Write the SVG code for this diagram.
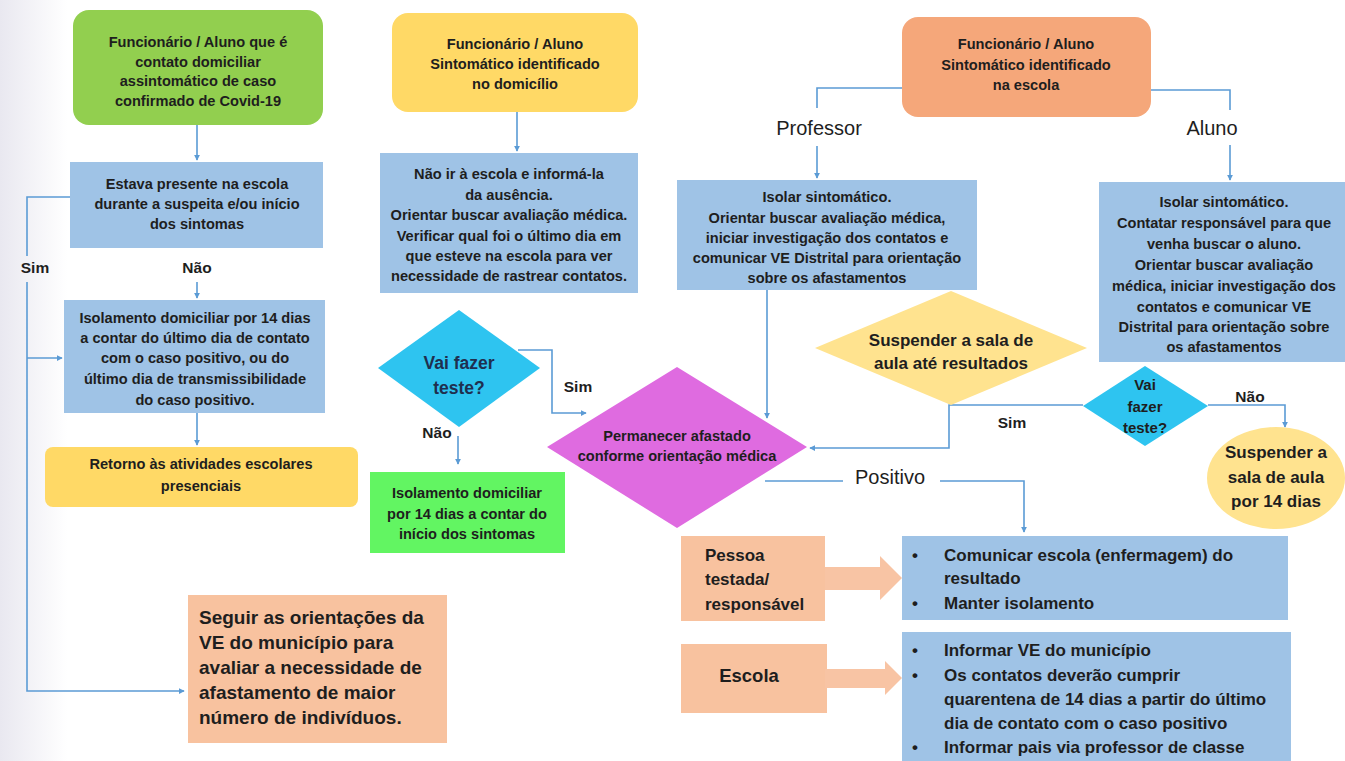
<svg xmlns="http://www.w3.org/2000/svg" width="1345" height="761" viewBox="0 0 1345 761">
<defs>
<marker id="ah" viewBox="0 0 8 8" refX="7" refY="4" markerWidth="6" markerHeight="6" orient="auto" markerUnits="userSpaceOnUse">
<path d="M0,0 L8,4 L0,8 z" fill="#5B9BD5"/>
</marker>
<linearGradient id="bg" x1="0" y1="0" x2="1" y2="0">
<stop offset="0" stop-color="#E9E8F0"/>
<stop offset="0.05" stop-color="#FFFFFF"/>
<stop offset="1" stop-color="#FFFFFF"/>
</linearGradient>
</defs>
<style>
text{font-family:"Liberation Sans",Arial,sans-serif;font-weight:bold;fill:#1E1E1E}
.c{text-anchor:middle}
.s{font-size:14.6px}
.m{font-size:17px}
.l{font-size:17px}
.xl{font-size:18.5px}
.sg{font-size:19px}
.lbl{font-size:15.5px}
.br{font-size:20px;font-weight:normal}
.conn{fill:none;stroke:#5B9BD5;stroke-width:1.6}
.blue{fill:#9FC3E6}
.peach{fill:#F8C29F}
.barrow{fill:#F8C4A4}
</style>
<rect x="0" y="0" width="1345" height="761" fill="url(#bg)"/>

<g id="connectors">
<path class="conn" d="M197,125 L197,160" marker-end="url(#ah)"/>
<path class="conn" d="M70,197 L27,197 L27,256"/>
<path class="conn" d="M27,282 L27,691 L184,691" marker-end="url(#ah)"/>
<path class="conn" d="M27,358 L62,358" marker-end="url(#ah)"/>
<path class="conn" d="M197,282 L197,298" marker-end="url(#ah)"/>
<path class="conn" d="M197,413 L197,445" marker-end="url(#ah)"/>
<path class="conn" d="M517,112 L517,151" marker-end="url(#ah)"/>
<path class="conn" d="M518,350 L552,350 L552,413 L586,413" marker-end="url(#ah)"/>
<path class="conn" d="M458,436 L458,464" marker-end="url(#ah)"/>
<path class="conn" d="M902,88 L817,88 L817,108"/>
<path class="conn" d="M817,146 L817,178" marker-end="url(#ah)"/>
<path class="conn" d="M1151,90 L1230,90 L1230,110"/>
<path class="conn" d="M1230,145 L1230,180" marker-end="url(#ah)"/>
<path class="conn" d="M767,290 L767,418" marker-end="url(#ah)"/>
<path class="conn" d="M1083,405 L949,405 L949,448 L810,448" marker-end="url(#ah)"/>
<path class="conn" d="M1208,405 L1285,405 L1285,427" marker-end="url(#ah)"/>
<path class="conn" d="M765,481 L843,481"/>
<path class="conn" d="M940,481 L1024,481 L1024,532" marker-end="url(#ah)"/>
</g>

<g id="labels">
<text class="c lbl" x="35" y="273">Sim</text>
<text class="c lbl" x="197" y="273">Não</text>
<text class="c lbl" x="578" y="392">Sim</text>
<text class="c lbl" x="437" y="438">Não</text>
<text class="c br" x="819" y="135">Professor</text>
<text class="c br" x="1212" y="135">Aluno</text>
<text class="c lbl" x="1012" y="428">Sim</text>
<text class="c lbl" x="1250" y="402">Não</text>
<text class="c br" x="890" y="484">Positivo</text>
</g>

<g id="n-green">
<rect x="73" y="10" width="250" height="115" rx="16" fill="#92CF4F"/>
<text class="c s" x="198" y="47">Funcionário / Aluno que é</text>
<text class="c s" x="198" y="67">contato domiciliar</text>
<text class="c s" x="198" y="86">assintomático de caso</text>
<text class="c s" x="198" y="106">confirmado de Covid-19</text>
</g>

<g id="n-estava">
<rect class="blue" x="70" y="162" width="253" height="86"/>
<text class="c s" x="197" y="189">Estava presente na escola</text>
<text class="c s" x="197" y="209">durante  a suspeita e/ou início</text>
<text class="c s" x="197" y="229">dos sintomas</text>
</g>

<g id="n-isolamento1">
<rect class="blue" x="64" y="300" width="261" height="113"/>
<text class="c s" x="195" y="323">Isolamento domiciliar por 14 dias</text>
<text class="c s" x="195" y="343">a contar do último dia de contato</text>
<text class="c s" x="195" y="363">com o caso positivo, ou do</text>
<text class="c s" x="195" y="384">último dia de transmissibilidade</text>
<text class="c s" x="195" y="405">do caso positivo.</text>
</g>

<g id="n-retorno">
<rect x="45" y="447" width="313" height="60" rx="8" fill="#FFD966"/>
<text class="c s" x="201" y="469">Retorno  às atividades escolares</text>
<text class="c s" x="201" y="491">presenciais</text>
</g>

<g id="n-seguir">
<rect class="peach" x="188" y="595" width="259" height="148"/>
<text class="sg" x="199" y="624">Seguir as orientações da</text>
<text class="sg" x="199" y="649">VE do município para</text>
<text class="sg" x="199" y="674">avaliar a necessidade de</text>
<text class="sg" x="199" y="699">afastamento de maior</text>
<text class="sg" x="199" y="724">número de indivíduos.</text>
</g>

<g id="n-domicilio">
<rect x="392" y="13" width="246" height="99" rx="16" fill="#FFD966"/>
<text class="c s" x="515" y="49">Funcionário / Aluno</text>
<text class="c s" x="515" y="69">Sintomático identificado</text>
<text class="c s" x="515" y="89">no domicílio</text>
</g>

<g id="n-naoir">
<rect class="blue" x="380" y="153" width="258" height="140"/>
<text class="c s" x="509" y="179">Não ir à escola e informá-la</text>
<text class="c s" x="509" y="200">da ausência.</text>
<text class="c s" x="509" y="220">Orientar buscar avaliação médica.</text>
<text class="c s" x="509" y="241">Verificar qual foi o último dia em</text>
<text class="c s" x="509" y="261">que esteve na escola para ver</text>
<text class="c s" x="509" y="281">necessidade de rastrear contatos.</text>
</g>

<g id="n-vaifazer1">
<polygon points="459,310 540,368 459,427 378,368" fill="#2EC4F0"/>
<text class="c" x="459" y="369" style="font-size:17.5px;fill:#1F2F4F">Vai fazer</text>
<text class="c" x="459" y="394" style="font-size:17.5px;fill:#1F2F4F">teste?</text>
</g>

<g id="n-isolamento2">
<rect x="370" y="472" width="195" height="81" fill="#62F562"/>
<text class="c s" x="467" y="498">Isolamento domiciliar</text>
<text class="c s" x="467" y="519">por 14 dias a contar do</text>
<text class="c s" x="467" y="539">início dos sintomas</text>
</g>

<g id="n-permanecer">
<polygon points="677,367 807,447 677,528 547,447" fill="#DF6BE0"/>
<text class="c s" x="677" y="441">Permanecer afastado</text>
<text class="c s" x="677" y="461">conforme orientação médica</text>
</g>

<g id="n-escola-orange">
<rect x="902" y="17" width="249" height="100" rx="16" fill="#F5A77A"/>
<text class="c s" x="1026" y="49">Funcionário / Aluno</text>
<text class="c s" x="1026" y="70">Sintomático identificado</text>
<text class="c s" x="1026" y="90">na escola</text>
</g>

<g id="n-professor">
<rect class="blue" x="677" y="180" width="300" height="110"/>
<text class="c s" x="827" y="202">Isolar sintomático.</text>
<text class="c s" x="827" y="223">Orientar buscar avaliação médica,</text>
<text class="c s" x="827" y="243">iniciar investigação dos contatos e</text>
<text class="c s" x="827" y="263">comunicar VE Distrital para orientação</text>
<text class="c s" x="827" y="283">sobre os afastamentos</text>
</g>

<g id="n-aluno">
<rect class="blue" x="1099" y="182" width="246" height="180"/>
<text class="c s" x="1224" y="207">Isolar sintomático.</text>
<text class="c s" x="1224" y="228">Contatar responsável para que</text>
<text class="c s" x="1224" y="249">venha buscar o aluno.</text>
<text class="c s" x="1224" y="270">Orientar buscar avaliação</text>
<text class="c s" x="1224" y="291">médica, iniciar investigação dos</text>
<text class="c s" x="1224" y="312">contatos e comunicar VE</text>
<text class="c s" x="1224" y="332">Distrital para orientação sobre</text>
<text class="c s" x="1224" y="352">os afastamentos</text>
</g>

<g id="n-suspender1">
<polygon points="951,291 1087,348 951,405 815,348" fill="#FFE38F"/>
<text class="c l" x="951" y="346">Suspender a sala de</text>
<text class="c l" x="951" y="369">aula até resultados</text>
</g>

<g id="n-vaifazer2">
<polygon points="1145,366 1208,406 1145,446 1083,406" fill="#2EC4F0"/>
<text class="c" x="1145" y="390" style="font-size:15px">Vai</text>
<text class="c" x="1145" y="412" style="font-size:15px">fazer</text>
<text class="c" x="1145" y="433" style="font-size:15px">teste?</text>
</g>

<g id="n-suspender2">
<ellipse cx="1276" cy="478" rx="69" ry="51" fill="#FFE38F"/>
<text class="c l" x="1276" y="458">Suspender a</text>
<text class="c l" x="1276" y="483">sala de aula</text>
<text class="c l" x="1276" y="507">por 14 dias</text>
</g>

<g id="n-pessoa">
<rect class="peach" x="681" y="536" width="144" height="85"/>
<text class="l" x="705" y="561">Pessoa</text>
<text class="l" x="705" y="585">testada/</text>
<text class="l" x="705" y="610">responsável</text>
</g>

<g id="arrow-pessoa">
<polygon class="barrow" points="825,567 880,567 880,556 902,578 880,600 880,590 825,590"/>
</g>

<g id="n-comunicar">
<rect class="blue" x="902" y="536" width="386" height="84"/>
<text class="m" x="912" y="561">•</text>
<text class="m" x="944" y="561">Comunicar escola (enfermagem) do</text>
<text class="m" x="944" y="584">resultado</text>
<text class="m" x="912" y="609">•</text>
<text class="m" x="944" y="609">Manter isolamento</text>
</g>

<g id="n-escola">
<rect class="peach" x="681" y="644" width="146" height="69"/>
<text class="c xl" x="749" y="682">Escola</text>
</g>

<g id="arrow-escola">
<polygon class="barrow" points="825,669 885,669 885,661 902,678 885,695 885,688 825,688"/>
</g>

<g id="n-informar">
<rect class="blue" x="902" y="632" width="389" height="129"/>
<text class="m" x="912" y="656">•</text>
<text class="m" x="944" y="656">Informar VE do município</text>
<text class="m" x="912" y="681">•</text>
<text class="m" x="944" y="681">Os contatos deverão cumprir</text>
<text class="m" x="944" y="705">quarentena de 14 dias a partir do último</text>
<text class="m" x="944" y="729">dia de contato com o caso positivo</text>
<text class="m" x="912" y="753">•</text>
<text class="m" x="944" y="753">Informar pais via professor de classe</text>
</g>
</svg>
